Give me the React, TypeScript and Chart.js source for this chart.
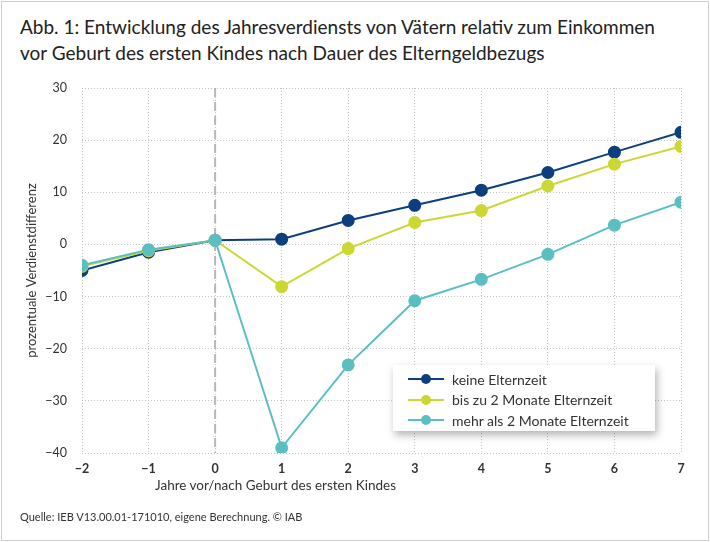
import React, { useEffect, useRef } from "react";
import { Chart, registerables } from "chart.js";

Chart.register(...registerables);

const years = [-2, -1, 0, 1, 2, 3, 4, 5, 6, 7];
const seriesNames = ["keine Elternzeit", "bis zu 2 Monate Elternzeit", "mehr als 2 Monate Elternzeit"];
const keineElternzeit = [-5.0, -1.5, 0.8, 1.0, 4.6, 7.5, 10.4, 13.8, 17.7, 21.5];
const bisZwei = [-4.2, -1.2, 0.8, -8.1, -0.8, 4.2, 6.5, 11.2, 15.4, 18.8];
const mehrAlsZwei = [-4.0, -1.0, 0.8, -39.0, -23.1, -10.8, -6.7, -1.9, 3.7, 8.1];
const colors = ["#0d3f7e", "#cbd834", "#5bbfc1"];
const yTicks = [-40, -30, -20, -10, 0, 10, 20, 30];

const FONT = "Lato, 'Open Sans', sans-serif";

const fmt = (v: any) => (Number(v) < 0 ? "\u2212" + Math.abs(Number(v)) : String(v));

const dashedZero = {
  id: "dashedZero",
  beforeDatasetsDraw(chart: any) {
    const { ctx, chartArea, scales } = chart;
    const x = scales.x.getPixelForValue(0);
    ctx.save();
    ctx.strokeStyle = "#b8b8b8";
    ctx.lineWidth = 2;
    ctx.setLineDash([9, 5]);
    ctx.beginPath();
    ctx.moveTo(x, chartArea.top);
    ctx.lineTo(x, chartArea.bottom);
    ctx.stroke();
    ctx.restore();
  },
};

export default function App() {
  const ref = useRef<HTMLCanvasElement>(null);
  useEffect(() => {
    const data = [keineElternzeit, bisZwei, mehrAlsZwei];
    const chart = new Chart(ref.current!, {
      type: "line",
      data: {
        datasets: data.map((vals, i) => ({
          label: seriesNames[i],
          data: vals.map((v, j) => ({ x: years[j], y: v })),
          borderColor: colors[i],
          backgroundColor: colors[i],
          pointBackgroundColor: colors[i],
          pointBorderColor: colors[i],
          borderWidth: 2,
          pointRadius: 5.5,
          pointHoverRadius: 5.5,
          order: 3 - i,
        })),
      },
      options: {
        animation: false,
        responsive: false,
        layout: { padding: { left: 24, right: 29, top: 88, bottom: 58 } },
        plugins: { legend: { display: false }, tooltip: { enabled: false } },
        scales: {
          x: {
            type: "linear",
            min: -2,
            max: 7,
            border: { display: false, dash: [1, 2] },
            grid: { color: "#c4c4c4", lineWidth: 1, tickLength: 0 },
            ticks: {
              stepSize: 1,
              padding: 8,
              color: "#333",
              font: { family: FONT, size: 12.5, weight: "bold" },
              callback: fmt,
            },
          },
          y: {
            min: -40,
            max: 30,
            afterBuildTicks: (s: any) => {
              s.ticks = yTicks.map((v) => ({ value: v }));
            },
            afterFit: (s: any) => {
              s.width = 58;
            },
            border: { display: false, dash: [1, 2] },
            grid: { color: "#c4c4c4", lineWidth: 1, tickLength: 0 },
            ticks: {
              padding: 15,
              color: "#333",
              font: { family: FONT, size: 12.5 },
              callback: fmt,
            },
            title: {
              display: true,
              text: "prozentuale Verdienstdifferenz",
              color: "#333",
              font: { family: FONT, size: 13 },
              padding: 0,
            },
          },
        },
      },
      plugins: [dashedZero],
    } as any);
    return () => chart.destroy();
  }, []);

  return (
    <div
      style={{
        position: "fixed",
        left: 0,
        top: 0,
        width: 710,
        height: 542,
        background: "#fff",
        fontFamily: FONT,
        color: "#222",
      }}
    >
      <div
        style={{
          position: "absolute",
          left: 1,
          top: 1,
          width: 706,
          height: 538,
          border: "1px solid #cfcfcf",
          pointerEvents: "none",
        }}
      />
      <div style={{ position: "absolute", left: 20, top: 14, fontSize: 19, lineHeight: "26px", color: "#222", whiteSpace: "nowrap" }}>
        Abb. 1: Entwicklung des Jahresverdiensts von Vätern relativ zum Einkommen
        <br />
        vor Geburt des ersten Kindes nach Dauer des Elterngeldbezugs
      </div>
      <canvas ref={ref} width={710} height={542} style={{ position: "absolute", left: 0, top: 0 }} />
      <div style={{ position: "absolute", left: 155, top: 477, fontSize: 13.5, color: "#333" }}>
        Jahre vor/nach Geburt des ersten Kindes
      </div>
      <div style={{ position: "absolute", left: 20, top: 510, fontSize: 11, color: "#333" }}>
        Quelle: IEB V13.00.01-171010, eigene Berechnung. © IAB
      </div>
      <div
        style={{
          position: "absolute",
          left: 393,
          top: 365,
          width: 262,
          height: 66,
          background: "#fff",
          boxShadow: "2px 4px 8px rgba(0,0,0,0.3)",
          boxSizing: "border-box",
          paddingTop: 4,
        }}
      >
        {seriesNames.map((n, i) => (
          <div key={n} style={{ display: "flex", alignItems: "center", height: 20.5, fontSize: 14, color: "#333" }}>
            <div style={{ position: "relative", marginLeft: 15, width: 36, height: 10 }}>
              <div style={{ position: "absolute", left: 0, top: 4, width: 36, height: 2, background: colors[i] }} />
              <div
                style={{ position: "absolute", left: 13, top: 0, width: 10, height: 10, borderRadius: 5, background: colors[i] }}
              />
            </div>
            <span style={{ marginLeft: 8 }}>{n}</span>
          </div>
        ))}
      </div>
    </div>
  );
}
